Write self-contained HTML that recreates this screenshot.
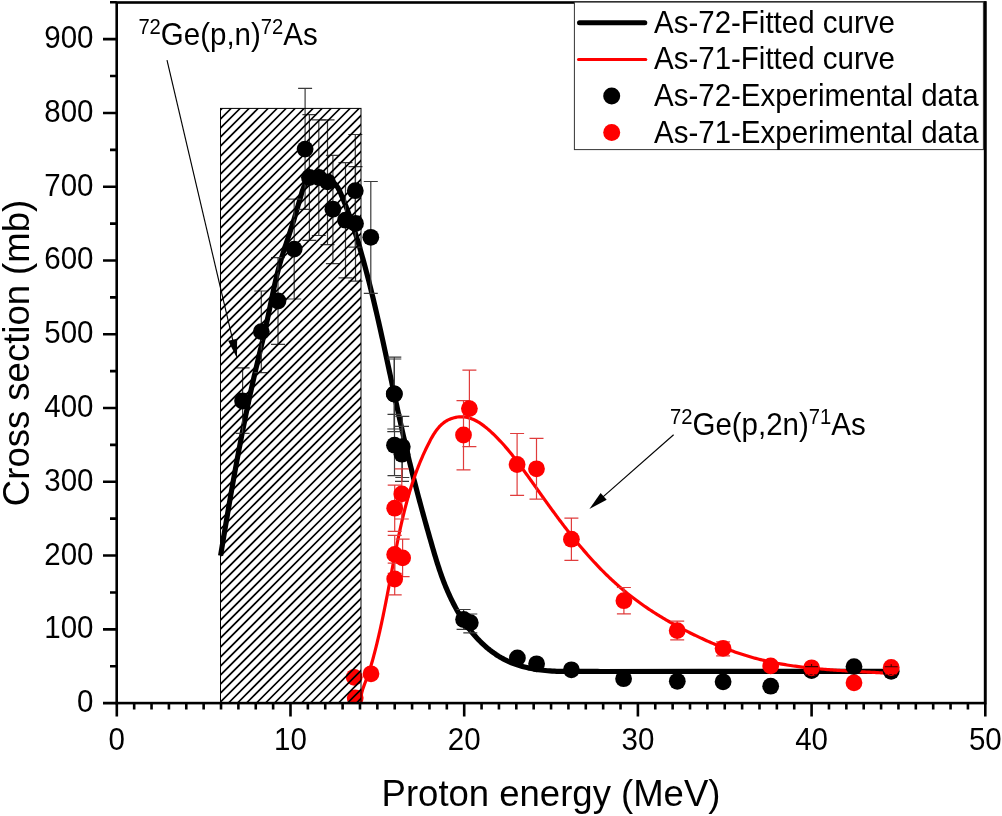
<!DOCTYPE html><html><head><meta charset="utf-8"><style>html,body{margin:0;padding:0;background:#fff;}svg{display:block;will-change:transform;}text{font-family:"Liberation Sans", sans-serif;}</style></head><body>
<svg width="1002" height="816" viewBox="0 0 1002 816">
<defs><clipPath id="pc"><rect x="116.70" y="2.50" width="868.50" height="700.60"/></clipPath>
</defs>
<rect width="1002" height="816" fill="#fff"/>
<g clip-path="url(#pc)">
<path d="M220.60,555.62L220.97,553.36L221.34,551.10L221.71,548.84L222.09,546.58L222.46,544.32L222.84,542.07L223.21,539.81L223.59,537.55L223.96,535.29L224.34,533.03L224.71,530.77L225.09,528.52L225.47,526.26L225.85,524.00L226.23,521.74L226.61,519.49L226.99,517.23L227.37,514.97L227.75,512.72L228.14,510.46L228.52,508.20L228.91,505.95L229.29,503.69L229.68,501.43L230.07,499.18L230.46,496.92L230.85,494.67L231.25,492.41L231.64,490.16L232.03,487.91L232.43,485.65L232.83,483.40L233.23,481.14L233.63,478.89L234.03,476.64L234.44,474.39L234.84,472.13L235.25,469.88L235.66,467.63L236.07,465.38L236.48,463.13L236.90,460.88L237.31,458.63L237.73,456.38L238.15,454.13L238.57,451.88L238.99,449.63L239.42,447.38L239.85,445.14L240.28,442.89L240.71,440.64L241.14,438.40L241.58,436.15L242.02,433.90L242.46,431.66L242.90,429.41L243.35,427.17L243.80,424.93L244.25,422.68L244.70,420.44L245.16,418.20L245.61,415.96L246.07,413.72L246.54,411.48L247.00,409.24L247.47,407.00L247.94,404.76L248.42,402.52L248.89,400.28L249.37,398.04L249.86,395.81L250.34,393.57L250.83,391.33L251.32,389.10L251.82,386.87L252.31,384.63L252.82,382.40L253.32,380.17L253.83,377.93L254.34,375.70L254.85,373.47L255.37,371.24L255.89,369.01L256.41,366.78L256.93,364.55L257.46,362.33L257.99,360.10L258.52,357.87L259.04,355.64L259.57,353.42L260.10,351.19L260.63,348.96L261.16,346.73L261.68,344.50L262.21,342.28L262.73,340.05L263.25,337.82L263.77,335.59L264.28,333.36L264.79,331.13L265.30,328.89L265.80,326.66L266.29,324.43L266.79,322.19L267.27,319.96L267.75,317.72L268.23,315.48L268.70,313.24L269.17,311.00L269.63,308.76L270.09,306.52L270.55,304.28L271.02,302.04L271.48,299.80L271.94,297.56L272.41,295.33L272.88,293.09L273.36,290.85L273.84,288.62L274.33,286.38L274.82,284.15L275.33,281.92L275.84,279.69L276.36,277.47L276.90,275.25L277.44,273.03L278.00,270.81L278.57,268.60L279.16,266.39L279.77,264.18L280.39,261.98L281.02,259.78L281.68,257.58L282.35,255.39L283.03,253.20L283.73,251.02L284.43,248.84L285.14,246.66L285.86,244.48L286.58,242.31L287.31,240.14L288.03,237.97L288.76,235.80L289.48,233.63L290.19,231.47L290.90,229.30L291.60,227.14L292.29,224.98L292.97,222.82L293.64,220.65L294.29,218.49L294.94,216.32L295.58,214.15L296.22,211.97L296.86,209.78L297.49,207.59L298.13,205.38L298.77,203.16L299.41,200.93L300.06,198.68L300.72,196.42L301.40,194.13L302.09,191.84L302.83,189.57L303.67,187.38L304.63,185.30L305.74,183.38L307.06,181.66L308.60,180.18L310.39,178.98L312.37,178.05L314.52,177.38L316.77,176.97L319.10,176.83L321.45,176.93L323.77,177.28L326.03,177.88L328.19,178.72L330.19,179.79L332.04,181.07L333.75,182.55L335.30,184.18L336.70,185.97L337.96,187.86L339.08,189.86L340.07,191.92L340.99,194.03L341.87,196.15L342.74,198.27L343.60,200.39L344.45,202.51L345.29,204.64L346.12,206.77L346.94,208.90L347.75,211.04L348.55,213.18L349.33,215.32L350.10,217.47L350.86,219.63L351.61,221.79L352.35,223.95L353.07,226.13L353.79,228.30L354.49,230.48L355.19,232.66L355.88,234.85L356.56,237.04L357.23,239.23L357.89,241.42L358.54,243.62L359.19,245.82L359.83,248.02L360.47,250.22L361.10,252.43L361.72,254.63L362.34,256.84L362.96,259.04L363.56,261.25L364.17,263.46L364.77,265.67L365.36,267.88L365.95,270.09L366.54,272.31L367.12,274.52L367.70,276.74L368.27,278.95L368.84,281.17L369.40,283.39L369.96,285.60L370.52,287.82L371.07,290.04L371.62,292.26L372.16,294.49L372.70,296.71L373.24,298.93L373.77,301.16L374.30,303.38L374.83,305.60L375.36,307.83L375.88,310.06L376.40,312.28L376.91,314.51L377.43,316.74L377.94,318.97L378.45,321.20L378.95,323.43L379.46,325.66L379.96,327.89L380.46,330.12L380.96,332.35L381.45,334.59L381.94,336.82L382.44,339.05L382.93,341.29L383.42,343.52L383.90,345.75L384.39,347.99L384.87,350.22L385.36,352.46L385.84,354.70L386.32,356.93L386.80,359.17L387.28,361.40L387.76,363.64L388.24,365.88L388.72,368.11L389.19,370.35L389.67,372.59L390.15,374.83L390.62,377.06L391.10,379.30L391.58,381.54L392.05,383.78L392.53,386.02L393.01,388.25L393.49,390.49L393.96,392.73L394.44,394.97L394.92,397.21L395.40,399.44L395.88,401.68L396.37,403.92L396.85,406.16L397.34,408.39L397.82,410.63L398.31,412.87L398.80,415.10L399.29,417.34L399.78,419.58L400.27,421.81L400.77,424.05L401.27,426.28L401.77,428.52L402.27,430.75L402.77,432.99L403.28,435.22L403.79,437.46L404.30,439.69L404.81,441.92L405.33,444.15L405.85,446.39L406.37,448.62L406.90,450.85L407.42,453.08L407.96,455.31L408.49,457.54L409.03,459.77L409.57,462.00L410.12,464.22L410.66,466.45L411.22,468.68L411.77,470.90L412.33,473.13L412.89,475.35L413.45,477.58L414.02,479.80L414.59,482.02L415.16,484.24L415.74,486.46L416.32,488.68L416.90,490.90L417.48,493.12L418.07,495.33L418.66,497.55L419.25,499.76L419.84,501.98L420.44,504.19L421.04,506.40L421.64,508.61L422.24,510.82L422.85,513.02L423.45,515.23L424.06,517.43L424.67,519.64L425.29,521.84L425.90,524.04L426.52,526.24L427.14,528.44L427.76,530.63L428.38,532.83L429.00,535.02L429.62,537.21L430.25,539.40L430.88,541.59L431.51,543.78L432.14,545.96L432.77,548.14L433.41,550.32L434.05,552.50L434.70,554.68L435.35,556.85L436.01,559.02L436.69,561.19L437.37,563.36L438.06,565.52L438.77,567.68L439.48,569.84L440.22,571.99L440.96,574.14L441.72,576.29L442.50,578.43L443.30,580.57L444.12,582.70L444.96,584.83L445.81,586.96L446.69,589.08L447.60,591.20L448.52,593.31L449.48,595.42L450.45,597.52L451.45,599.61L452.48,601.69L453.53,603.76L454.60,605.82L455.70,607.87L456.83,609.91L457.98,611.93L459.15,613.93L460.36,615.91L461.58,617.88L462.84,619.83L464.12,621.76L465.43,623.66L466.76,625.54L468.13,627.40L469.52,629.24L470.93,631.04L472.38,632.82L473.85,634.58L475.35,636.30L476.88,637.99L478.43,639.65L480.02,641.27L481.63,642.86L483.27,644.42L484.94,645.94L486.64,647.42L488.37,648.87L490.13,650.27L491.92,651.63L493.74,652.95L495.59,654.23L497.46,655.46L499.37,656.65L501.31,657.79L503.28,658.88L505.28,659.93L507.31,660.92L509.38,661.86L511.47,662.75L513.60,663.59L515.75,664.37L517.93,665.11L520.13,665.80L522.36,666.44L524.60,667.03L526.86,667.58L529.13,668.09L531.42,668.55L533.72,668.97L536.02,669.36L538.33,669.71L540.64,670.02L542.95,670.29L545.26,670.53L547.57,670.74L549.87,670.92L552.16,671.07L554.44,671.19L556.70,671.29L558.97,671.36L561.22,671.41L563.47,671.44L565.72,671.46L567.96,671.46L570.21,671.46L572.45,671.44L574.70,671.42L576.95,671.40L579.21,671.37L581.47,671.35L583.75,671.33L586.03,671.32L588.33,671.31L590.64,671.32L592.96,671.35L595.30,671.38L597.66,671.44L600.04,671.52L700.00,671.45L893.00,671.40" fill="none" stroke="#000" stroke-width="5.2" stroke-linejoin="round"/>
<path d="M360.83,701.79L360.80,700.06L360.87,698.34L361.03,696.66L361.29,695.00L361.62,693.35L362.02,691.73L362.48,690.12L362.99,688.52L363.53,686.94L364.11,685.36L364.70,683.78L365.30,682.21L365.91,680.63L366.50,679.05L367.08,677.47L367.65,675.89L368.20,674.29L368.74,672.70L369.27,671.10L369.78,669.50L370.29,667.89L370.78,666.28L371.27,664.67L371.74,663.06L372.21,661.44L372.67,659.82L373.12,658.20L373.56,656.57L373.99,654.95L374.42,653.32L374.85,651.69L375.26,650.06L375.68,648.42L376.09,646.79L376.49,645.15L376.89,643.52L377.29,641.88L377.68,640.24L378.07,638.60L378.46,636.96L378.84,635.32L379.21,633.68L379.59,632.04L379.96,630.39L380.32,628.75L380.69,627.10L381.05,625.46L381.41,623.81L381.76,622.16L382.11,620.51L382.46,618.86L382.81,617.21L383.15,615.56L383.49,613.91L383.83,612.26L384.17,610.60L384.50,608.95L384.84,607.29L385.17,605.64L385.50,603.99L385.82,602.33L386.15,600.67L386.47,599.02L386.80,597.36L387.12,595.70L387.44,594.05L387.76,592.39L388.07,590.73L388.39,589.07L388.71,587.41L389.02,585.75L389.34,584.10L389.65,582.44L389.97,580.78L390.28,579.12L390.60,577.46L390.91,575.80L391.22,574.14L391.54,572.48L391.85,570.82L392.16,569.16L392.48,567.50L392.79,565.84L393.11,564.18L393.43,562.52L393.74,560.86L394.06,559.21L394.38,557.55L394.70,555.89L395.02,554.23L395.35,552.57L395.67,550.92L396.00,549.26L396.32,547.60L396.65,545.95L396.99,544.29L397.32,542.64L397.66,540.98L397.99,539.33L398.34,537.68L398.68,536.03L399.03,534.38L399.38,532.73L399.73,531.08L400.09,529.43L400.45,527.78L400.82,526.13L401.19,524.49L401.56,522.85L401.94,521.20L402.32,519.56L402.70,517.92L403.09,516.28L403.49,514.65L403.89,513.01L404.30,511.37L404.71,509.74L405.12,508.11L405.55,506.48L405.97,504.85L406.41,503.23L406.85,501.60L407.29,499.98L407.75,498.36L408.21,496.74L408.67,495.12L409.14,493.51L409.62,491.89L410.11,490.28L410.60,488.67L411.11,487.07L411.62,485.46L412.13,483.86L412.66,482.26L413.19,480.66L413.73,479.07L414.28,477.48L414.84,475.89L415.41,474.30L415.98,472.71L416.57,471.13L417.16,469.55L417.77,467.98L418.38,466.40L419.00,464.83L419.63,463.26L420.28,461.70L420.93,460.14L421.59,458.58L422.26,457.02L422.95,455.47L423.64,453.92L424.35,452.37L425.06,450.83L425.79,449.29L426.53,447.75L427.28,446.22L428.04,444.69L428.81,443.16L429.60,441.64L430.40,440.12L431.21,438.61L432.05,437.12L432.91,435.64L433.79,434.19L434.71,432.76L435.65,431.37L436.64,430.01L437.67,428.69L438.74,427.42L439.85,426.20L441.02,425.03L442.25,423.93L443.53,422.88L444.87,421.90L446.27,421.00L447.75,420.17L449.28,419.42L450.87,418.76L452.50,418.19L454.16,417.71L455.84,417.32L457.53,417.03L459.21,416.85L460.88,416.77L462.52,416.80L464.15,416.92L465.76,417.15L467.35,417.46L468.92,417.86L470.47,418.35L472.00,418.91L473.51,419.54L475.00,420.24L476.48,421.01L477.93,421.83L479.37,422.71L480.79,423.64L482.19,424.62L483.58,425.64L484.94,426.69L486.29,427.77L487.62,428.88L488.93,430.02L490.23,431.17L491.50,432.33L492.76,433.51L494.01,434.70L495.23,435.89L496.45,437.10L497.64,438.32L498.82,439.54L499.99,440.78L501.15,442.02L502.29,443.27L503.42,444.53L504.53,445.80L505.64,447.08L506.74,448.36L507.82,449.65L508.89,450.95L509.96,452.25L511.01,453.56L512.06,454.87L513.10,456.19L514.13,457.52L515.16,458.85L516.18,460.18L517.19,461.52L518.20,462.86L519.20,464.21L520.20,465.55L521.19,466.91L522.18,468.26L523.17,469.62L524.15,470.98L525.14,472.34L526.12,473.70L527.10,475.06L528.08,476.43L529.06,477.80L530.04,479.16L531.02,480.53L532.00,481.90L532.97,483.27L533.95,484.64L534.93,486.01L535.90,487.38L536.88,488.76L537.86,490.13L538.83,491.50L539.81,492.87L540.79,494.25L541.77,495.62L542.75,496.99L543.73,498.36L544.71,499.73L545.69,501.10L546.68,502.48L547.66,503.85L548.65,505.21L549.64,506.58L550.63,507.95L551.62,509.32L552.62,510.68L553.61,512.05L554.61,513.41L555.62,514.77L556.62,516.13L557.63,517.49L558.64,518.85L559.65,520.20L560.67,521.55L561.69,522.90L562.71,524.25L563.73,525.60L564.76,526.94L565.80,528.28L566.83,529.62L567.87,530.96L568.91,532.29L569.96,533.62L571.01,534.95L572.06,536.28L573.12,537.60L574.18,538.92L575.25,540.23L576.32,541.54L577.39,542.85L578.47,544.16L579.55,545.46L580.64,546.75L581.73,548.04L582.83,549.33L583.92,550.62L585.03,551.90L586.14,553.17L587.25,554.44L588.37,555.71L589.49,556.97L590.62,558.23L591.75,559.48L592.89,560.72L594.03,561.96L595.18,563.20L596.34,564.43L597.49,565.65L598.66,566.87L599.83,568.09L601.00,569.30L602.18,570.50L603.37,571.69L604.56,572.88L605.76,574.07L606.96,575.24L608.17,576.41L609.39,577.58L610.61,578.73L611.83,579.88L613.07,581.03L614.31,582.16L615.55,583.29L616.81,584.42L618.06,585.53L619.33,586.64L620.60,587.74L621.88,588.83L623.16,589.92L624.45,590.99L625.75,592.06L627.06,593.12L628.37,594.18L629.69,595.22L631.01,596.26L632.34,597.29L633.68,598.31L635.02,599.32L636.37,600.33L637.73,601.33L639.09,602.32L640.46,603.31L641.83,604.28L643.21,605.25L644.60,606.21L645.99,607.17L647.38,608.12L648.78,609.06L650.19,609.99L651.60,610.92L653.02,611.84L654.44,612.75L655.86,613.66L657.29,614.55L658.73,615.45L660.17,616.33L661.61,617.21L663.06,618.08L664.52,618.95L665.97,619.81L667.44,620.66L668.90,621.50L670.37,622.34L671.84,623.18L673.32,624.00L674.80,624.82L676.29,625.64L677.78,626.45L679.27,627.25L680.76,628.05L682.26,628.84L683.76,629.62L685.26,630.40L686.77,631.17L688.28,631.94L689.79,632.70L691.31,633.45L692.83,634.20L694.35,634.95L695.87,635.68L697.40,636.42L698.93,637.14L700.46,637.86L701.99,638.57L703.53,639.28L705.07,639.98L706.61,640.67L708.16,641.36L709.70,642.04L711.25,642.71L712.81,643.38L714.36,644.04L715.92,644.69L717.48,645.33L719.04,645.97L720.61,646.60L722.18,647.22L723.75,647.84L725.32,648.44L726.90,649.04L728.47,649.63L730.06,650.22L731.64,650.79L733.23,651.36L734.81,651.92L736.41,652.47L738.00,653.01L739.60,653.54L741.20,654.06L742.80,654.58L744.40,655.08L746.01,655.58L747.62,656.07L749.23,656.55L750.85,657.02L752.46,657.48L754.08,657.93L755.71,658.37L757.33,658.80L758.96,659.22L760.59,659.64L762.22,660.04L763.86,660.43L765.49,660.81L767.13,661.19L768.78,661.55L770.42,661.90L772.07,662.25L773.72,662.58L775.37,662.91L777.02,663.23L778.67,663.54L780.33,663.84L781.99,664.13L783.65,664.42L785.31,664.69L786.98,664.96L788.64,665.23L790.31,665.48L791.98,665.73L793.65,665.97L795.32,666.20L797.00,666.43L798.67,666.65L800.35,666.86L802.03,667.07L803.71,667.27L805.39,667.47L807.07,667.66L808.75,667.84L810.43,668.02L812.12,668.20L813.80,668.36L815.49,668.53L817.17,668.69L818.86,668.84L820.55,668.99L822.23,669.14L823.92,669.28L825.61,669.42L827.30,669.55L828.99,669.68L830.68,669.81L832.37,669.93L834.06,670.06L835.75,670.17L837.44,670.29L839.13,670.40L840.82,670.51L842.51,670.62L844.20,670.72L845.90,670.83L847.58,670.93L849.27,671.03L850.96,671.13L852.65,671.23L854.34,671.32L856.03,671.42L857.72,671.51L859.40,671.61L861.09,671.70L862.77,671.79L864.46,671.89L866.14,671.98L867.82,672.07L869.50,672.17L871.18,672.26L872.86,672.36L874.54,672.45L876.22,672.55L877.89,672.65L879.57,672.74L881.24,672.85L882.91,672.95L884.58,673.05L886.25,673.16L887.92,673.27L889.58,673.38L891.25,673.49L892.91,673.60" fill="none" stroke="#f00" stroke-width="3.2" stroke-linejoin="round"/>
<path d="M242.60,367.90V433.40M235.60,367.90H249.60M235.60,433.40H249.60" stroke="#3a3a3a" stroke-width="1.2" fill="none"/>
<path d="M261.30,291.00V372.70M254.30,291.00H268.30M254.30,372.70H268.30" stroke="#3a3a3a" stroke-width="1.2" fill="none"/>
<path d="M278.00,257.60V344.40M271.00,257.60H285.00M271.00,344.40H285.00" stroke="#3a3a3a" stroke-width="1.2" fill="none"/>
<path d="M294.20,199.10V299.00M287.20,199.10H301.20M287.20,299.00H301.20" stroke="#3a3a3a" stroke-width="1.2" fill="none"/>
<path d="M305.10,88.30V209.40M298.10,88.30H312.10M298.10,209.40H312.10" stroke="#3a3a3a" stroke-width="1.2" fill="none"/>
<path d="M309.40,114.70V240.30M302.40,114.70H316.40M302.40,240.30H316.40" stroke="#3a3a3a" stroke-width="1.2" fill="none"/>
<path d="M318.80,119.80V235.50M311.80,119.80H325.80M311.80,235.50H325.80" stroke="#3a3a3a" stroke-width="1.2" fill="none"/>
<path d="M327.50,119.80V244.70M320.50,119.80H334.50M320.50,244.70H334.50" stroke="#3a3a3a" stroke-width="1.2" fill="none"/>
<path d="M332.90,155.30V263.70M325.90,155.30H339.90M325.90,263.70H339.90" stroke="#3a3a3a" stroke-width="1.2" fill="none"/>
<path d="M345.50,162.60V277.80M338.50,162.60H352.50M338.50,277.80H352.50" stroke="#3a3a3a" stroke-width="1.2" fill="none"/>
<path d="M355.30,134.50V247.10M348.30,134.50H362.30M348.30,247.10H362.30" stroke="#3a3a3a" stroke-width="1.2" fill="none"/>
<path d="M355.50,166.60V281.10M348.50,166.60H362.50M348.50,281.10H362.50" stroke="#3a3a3a" stroke-width="1.2" fill="none"/>
<path d="M370.80,181.50V293.30M363.80,181.50H377.80M363.80,293.30H377.80" stroke="#3a3a3a" stroke-width="1.2" fill="none"/>
<path d="M394.30,359.00V429.00M387.30,359.00H401.30M387.30,429.00H401.30" stroke="#3a3a3a" stroke-width="1.2" fill="none"/>
<path d="M394.30,357.20V431.70M387.30,357.20H401.30M387.30,431.70H401.30" stroke="#3a3a3a" stroke-width="1.2" fill="none"/>
<path d="M394.50,414.30V475.60M387.50,414.30H401.50M387.50,475.60H401.50" stroke="#3a3a3a" stroke-width="1.2" fill="none"/>
<path d="M402.30,416.30V477.50M395.30,416.30H409.30M395.30,477.50H409.30" stroke="#3a3a3a" stroke-width="1.2" fill="none"/>
<path d="M402.00,426.40V481.30M395.00,426.40H409.00M395.00,481.30H409.00" stroke="#3a3a3a" stroke-width="1.2" fill="none"/>
<path d="M463.60,609.50V629.30M456.60,609.50H470.60M456.60,629.30H470.60" stroke="#3a3a3a" stroke-width="1.2" fill="none"/>
<path d="M470.30,614.00V632.80M463.30,614.00H477.30M463.30,632.80H477.30" stroke="#3a3a3a" stroke-width="1.2" fill="none"/>







<path d="M811.60,666.60V674.60M804.60,666.60H818.60M804.60,674.60H818.60" stroke="#3a3a3a" stroke-width="1.2" fill="none"/>

<path d="M891.20,666.70V674.50M884.20,666.70H898.20M884.20,674.50H898.20" stroke="#3a3a3a" stroke-width="1.2" fill="none"/>
<circle cx="242.60" cy="401.00" r="8.40" fill="#000"/>
<circle cx="261.30" cy="331.60" r="8.40" fill="#000"/>
<circle cx="278.00" cy="301.00" r="8.40" fill="#000"/>
<circle cx="294.20" cy="249.10" r="8.40" fill="#000"/>
<circle cx="305.10" cy="149.10" r="8.40" fill="#000"/>
<circle cx="309.40" cy="177.50" r="8.40" fill="#000"/>
<circle cx="318.80" cy="177.50" r="8.40" fill="#000"/>
<circle cx="327.50" cy="181.80" r="8.40" fill="#000"/>
<circle cx="332.90" cy="209.20" r="8.40" fill="#000"/>
<circle cx="345.50" cy="220.20" r="8.40" fill="#000"/>
<circle cx="355.30" cy="190.70" r="8.40" fill="#000"/>
<circle cx="355.50" cy="223.50" r="8.40" fill="#000"/>
<circle cx="370.80" cy="237.30" r="8.40" fill="#000"/>
<circle cx="394.30" cy="394.00" r="8.40" fill="#000"/>
<circle cx="394.30" cy="394.00" r="8.40" fill="#000"/>
<circle cx="394.50" cy="445.20" r="8.40" fill="#000"/>
<circle cx="402.30" cy="446.70" r="8.40" fill="#000"/>
<circle cx="402.00" cy="454.20" r="8.40" fill="#000"/>
<circle cx="463.60" cy="619.50" r="8.40" fill="#000"/>
<circle cx="470.30" cy="622.70" r="8.40" fill="#000"/>
<circle cx="517.40" cy="657.90" r="8.40" fill="#000"/>
<circle cx="536.60" cy="663.80" r="8.40" fill="#000"/>
<circle cx="571.40" cy="669.80" r="8.40" fill="#000"/>
<circle cx="623.60" cy="678.70" r="8.40" fill="#000"/>
<circle cx="677.30" cy="681.30" r="8.40" fill="#000"/>
<circle cx="723.10" cy="681.80" r="8.40" fill="#000"/>
<circle cx="770.70" cy="686.20" r="8.40" fill="#000"/>
<circle cx="811.60" cy="670.60" r="8.40" fill="#000"/>
<circle cx="854.00" cy="666.60" r="8.40" fill="#000"/>
<circle cx="891.20" cy="671.30" r="8.40" fill="#000"/>



<path d="M401.80,468.80V519.00M394.80,468.80H408.80M394.80,519.00H408.80" stroke="#e03c3c" stroke-width="1.2" fill="none"/>
<path d="M394.70,485.10V531.30M387.70,485.10H401.70M387.70,531.30H401.70" stroke="#e03c3c" stroke-width="1.2" fill="none"/>
<path d="M394.70,535.30V573.40M387.70,535.30H401.70M387.70,573.40H401.70" stroke="#e03c3c" stroke-width="1.2" fill="none"/>
<path d="M402.60,539.20V576.60M395.60,539.20H409.60M395.60,576.60H409.60" stroke="#e03c3c" stroke-width="1.2" fill="none"/>
<path d="M394.70,563.10V594.90M387.70,563.10H401.70M387.70,594.90H401.70" stroke="#e03c3c" stroke-width="1.2" fill="none"/>
<path d="M463.50,400.60V469.80M456.50,400.60H470.50M456.50,469.80H470.50" stroke="#e03c3c" stroke-width="1.2" fill="none"/>
<path d="M469.40,370.20V446.70M462.40,370.20H476.40M462.40,446.70H476.40" stroke="#e03c3c" stroke-width="1.2" fill="none"/>
<path d="M517.10,433.50V495.30M510.10,433.50H524.10M510.10,495.30H524.10" stroke="#e03c3c" stroke-width="1.2" fill="none"/>
<path d="M536.50,438.40V499.20M529.50,438.40H543.50M529.50,499.20H543.50" stroke="#e03c3c" stroke-width="1.2" fill="none"/>
<path d="M571.40,518.20V560.40M564.40,518.20H578.40M564.40,560.40H578.40" stroke="#e03c3c" stroke-width="1.2" fill="none"/>
<path d="M623.90,587.50V613.90M616.90,587.50H630.90M616.90,613.90H630.90" stroke="#e03c3c" stroke-width="1.2" fill="none"/>
<path d="M677.20,621.20V639.90M670.20,621.20H684.20M670.20,639.90H684.20" stroke="#e03c3c" stroke-width="1.2" fill="none"/>
<path d="M723.10,641.80V655.90M716.10,641.80H730.10M716.10,655.90H730.10" stroke="#e03c3c" stroke-width="1.2" fill="none"/>




<circle cx="354.20" cy="677.30" r="8.40" fill="#f00"/>
<circle cx="355.20" cy="697.80" r="8.40" fill="#f00"/>
<circle cx="371.00" cy="673.80" r="8.40" fill="#f00"/>
<circle cx="401.80" cy="493.90" r="8.40" fill="#f00"/>
<circle cx="394.70" cy="508.20" r="8.40" fill="#f00"/>
<circle cx="394.70" cy="554.40" r="8.40" fill="#f00"/>
<circle cx="402.60" cy="557.90" r="8.40" fill="#f00"/>
<circle cx="394.70" cy="579.00" r="8.40" fill="#f00"/>
<circle cx="463.50" cy="435.00" r="8.40" fill="#f00"/>
<circle cx="469.40" cy="408.60" r="8.40" fill="#f00"/>
<circle cx="517.10" cy="464.50" r="8.40" fill="#f00"/>
<circle cx="536.50" cy="468.80" r="8.40" fill="#f00"/>
<circle cx="571.40" cy="539.20" r="8.40" fill="#f00"/>
<circle cx="623.90" cy="600.70" r="8.40" fill="#f00"/>
<circle cx="677.20" cy="630.60" r="8.40" fill="#f00"/>
<circle cx="723.10" cy="648.40" r="8.40" fill="#f00"/>
<circle cx="770.70" cy="665.90" r="8.40" fill="#f00"/>
<circle cx="811.60" cy="667.80" r="8.40" fill="#f00"/>
<circle cx="854.00" cy="682.80" r="8.40" fill="#f00"/>
<circle cx="891.20" cy="667.50" r="8.40" fill="#f00"/>
<path d="M811.60,664.10V666.60M805.10,666.60H818.10" stroke="#400000" stroke-width="1.1" fill="none"/>
<path d="M805.10,674.60H818.10" stroke="#700000" stroke-width="1.1" stroke-dasharray="3,1.5" fill="none"/>
<path d="M891.20,664.20V666.70M884.70,666.70H897.70" stroke="#400000" stroke-width="1.1" fill="none"/>
<path d="M884.70,674.50H897.70" stroke="#700000" stroke-width="1.1" stroke-dasharray="3,1.5" fill="none"/>
</g>
<clipPath id="hc"><rect x="220.50" y="108.40" width="140.50" height="594.70"/></clipPath>
<path clip-path="url(#hc)" d="M-392.60,705.10L206.10,106.40M-383.60,705.10L215.10,106.40M-374.60,705.10L224.10,106.40M-365.60,705.10L233.10,106.40M-356.60,705.10L242.10,106.40M-347.60,705.10L251.10,106.40M-338.60,705.10L260.10,106.40M-328.60,705.10L270.10,106.40M-319.60,705.10L279.10,106.40M-310.60,705.10L288.10,106.40M-301.60,705.10L297.10,106.40M-292.60,705.10L306.10,106.40M-283.60,705.10L315.10,106.40M-274.60,705.10L324.10,106.40M-265.60,705.10L333.10,106.40M-256.60,705.10L342.10,106.40M-246.60,705.10L352.10,106.40M-237.60,705.10L361.10,106.40M-228.60,705.10L370.10,106.40M-219.60,705.10L379.10,106.40M-210.60,705.10L388.10,106.40M-201.60,705.10L397.10,106.40M-192.60,705.10L406.10,106.40M-183.60,705.10L415.10,106.40M-174.60,705.10L424.10,106.40M-164.60,705.10L434.10,106.40M-155.60,705.10L443.10,106.40M-146.60,705.10L452.10,106.40M-137.60,705.10L461.10,106.40M-128.60,705.10L470.10,106.40M-119.60,705.10L479.10,106.40M-110.60,705.10L488.10,106.40M-101.60,705.10L497.10,106.40M-92.60,705.10L506.10,106.40M-82.60,705.10L516.10,106.40M-73.60,705.10L525.10,106.40M-64.60,705.10L534.10,106.40M-55.60,705.10L543.10,106.40M-46.60,705.10L552.10,106.40M-37.60,705.10L561.10,106.40M-28.60,705.10L570.10,106.40M-19.60,705.10L579.10,106.40M-10.60,705.10L588.10,106.40M-0.60,705.10L598.10,106.40M8.40,705.10L607.10,106.40M17.40,705.10L616.10,106.40M26.40,705.10L625.10,106.40M35.40,705.10L634.10,106.40M44.40,705.10L643.10,106.40M53.40,705.10L652.10,106.40M62.40,705.10L661.10,106.40M71.40,705.10L670.10,106.40M80.40,705.10L679.10,106.40M90.40,705.10L689.10,106.40M99.40,705.10L698.10,106.40M108.40,705.10L707.10,106.40M117.40,705.10L716.10,106.40M126.40,705.10L725.10,106.40M135.40,705.10L734.10,106.40M144.40,705.10L743.10,106.40M153.40,705.10L752.10,106.40M162.40,705.10L761.10,106.40M172.40,705.10L771.10,106.40M181.40,705.10L780.10,106.40M190.40,705.10L789.10,106.40M199.40,705.10L798.10,106.40M208.40,705.10L807.10,106.40M217.40,705.10L816.10,106.40M226.40,705.10L825.10,106.40M235.40,705.10L834.10,106.40M244.40,705.10L843.10,106.40M254.40,705.10L853.10,106.40M263.40,705.10L862.10,106.40M272.40,705.10L871.10,106.40M281.40,705.10L880.10,106.40M290.40,705.10L889.10,106.40M299.40,705.10L898.10,106.40M308.40,705.10L907.10,106.40M317.40,705.10L916.10,106.40M326.40,705.10L925.10,106.40M336.40,705.10L935.10,106.40M345.40,705.10L944.10,106.40M354.40,705.10L953.10,106.40M363.40,705.10L962.10,106.40M372.40,705.10L971.10,106.40" stroke="#000" stroke-width="1.60" fill="none"/>
<rect x="220.50" y="108.40" width="140.50" height="594.70" fill="none" stroke="#000" stroke-width="1"/>
<rect x="116.70" y="2.50" width="868.50" height="700.60" fill="none" stroke="#000" stroke-width="2.60"/>
<path d="M103.00,703.10H116.70M110.00,666.22H116.70M103.00,629.33H116.70M110.00,592.45H116.70M103.00,555.56H116.70M110.00,518.67H116.70M103.00,481.79H116.70M110.00,444.91H116.70M103.00,408.02H116.70M110.00,371.13H116.70M103.00,334.25H116.70M110.00,297.37H116.70M103.00,260.48H116.70M110.00,223.60H116.70M103.00,186.71H116.70M110.00,149.83H116.70M103.00,112.94H116.70M110.00,76.05H116.70M103.00,39.17H116.70M110.00,2.28H116.70M116.80,703.10V716.40M134.17,703.10V709.50M151.54,703.10V709.50M168.91,703.10V709.50M186.28,703.10V709.50M203.65,703.10V709.50M221.02,703.10V709.50M238.39,703.10V709.50M255.76,703.10V709.50M273.13,703.10V709.50M290.50,703.10V716.40M307.87,703.10V709.50M325.24,703.10V709.50M342.61,703.10V709.50M359.98,703.10V709.50M377.35,703.10V709.50M394.72,703.10V709.50M412.09,703.10V709.50M429.46,703.10V709.50M446.83,703.10V709.50M464.20,703.10V716.40M481.57,703.10V709.50M498.94,703.10V709.50M516.31,703.10V709.50M533.68,703.10V709.50M551.05,703.10V709.50M568.42,703.10V709.50M585.79,703.10V709.50M603.16,703.10V709.50M620.53,703.10V709.50M637.90,703.10V716.40M655.27,703.10V709.50M672.64,703.10V709.50M690.01,703.10V709.50M707.38,703.10V709.50M724.75,703.10V709.50M742.12,703.10V709.50M759.49,703.10V709.50M776.86,703.10V709.50M794.23,703.10V709.50M811.60,703.10V716.40M828.97,703.10V709.50M846.34,703.10V709.50M863.71,703.10V709.50M881.08,703.10V709.50M898.45,703.10V709.50M915.82,703.10V709.50M933.19,703.10V709.50M950.56,703.10V709.50M967.93,703.10V709.50M985.30,703.10V716.40" stroke="#000" stroke-width="2.60" fill="none"/>
<text transform="translate(93.5,712.10) scale(1,1.090)" font-size="29.5" text-anchor="end">0</text>
<text transform="translate(93.5,638.33) scale(1,1.090)" font-size="29.5" text-anchor="end">100</text>
<text transform="translate(93.5,564.56) scale(1,1.090)" font-size="29.5" text-anchor="end">200</text>
<text transform="translate(93.5,490.79) scale(1,1.090)" font-size="29.5" text-anchor="end">300</text>
<text transform="translate(93.5,417.02) scale(1,1.090)" font-size="29.5" text-anchor="end">400</text>
<text transform="translate(93.5,343.25) scale(1,1.090)" font-size="29.5" text-anchor="end">500</text>
<text transform="translate(93.5,269.48) scale(1,1.090)" font-size="29.5" text-anchor="end">600</text>
<text transform="translate(93.5,195.71) scale(1,1.090)" font-size="29.5" text-anchor="end">700</text>
<text transform="translate(93.5,121.94) scale(1,1.090)" font-size="29.5" text-anchor="end">800</text>
<text transform="translate(93.5,48.17) scale(1,1.090)" font-size="29.5" text-anchor="end">900</text>
<text transform="translate(116.80,749.6) scale(1,1.090)" font-size="29.5" text-anchor="middle">0</text>
<text transform="translate(290.50,749.6) scale(1,1.090)" font-size="29.5" text-anchor="middle">10</text>
<text transform="translate(464.20,749.6) scale(1,1.090)" font-size="29.5" text-anchor="middle">20</text>
<text transform="translate(637.90,749.6) scale(1,1.090)" font-size="29.5" text-anchor="middle">30</text>
<text transform="translate(811.60,749.6) scale(1,1.090)" font-size="29.5" text-anchor="middle">40</text>
<text transform="translate(985.30,749.6) scale(1,1.090)" font-size="29.5" text-anchor="middle">50</text>
<text x="551" y="806" font-size="36.5" text-anchor="middle">Proton energy (MeV)</text>
<text transform="translate(29.3,353) rotate(-90)" x="0" y="0" font-size="36.5" text-anchor="middle">Cross section (mb)</text>
<text transform="translate(138.40,45.10) scale(1,1.06)" font-size="29.5"><tspan font-size="20.2" dy="-10.80">72</tspan><tspan dy="10.80">Ge(p,n)</tspan><tspan font-size="20.2" dy="-10.80">72</tspan><tspan dy="10.80">As</tspan></text>
<text transform="translate(670.00,435.10) scale(1,1.06)" font-size="29.5"><tspan font-size="20.2" dy="-10.80">72</tspan><tspan dy="10.80">Ge(p,2n)</tspan><tspan font-size="20.2" dy="-10.80">71</tspan><tspan dy="10.80">As</tspan></text>
<path d="M167.00,60.10L233.11,341.65" stroke="#000" stroke-width="1.15" fill="none"/><path d="M237.00,358.20L228.18,340.75L237.13,338.65Z" fill="#000"/>
<path d="M673.60,434.70L602.15,497.66" stroke="#000" stroke-width="1.15" fill="none"/><path d="M589.40,508.90L600.61,492.89L606.70,499.79Z" fill="#000"/>
<rect x="574.4" y="2.1" width="409" height="147.5" fill="#fff" stroke="#333" stroke-width="1"/>
<path d="M579.5,22.8H644.8" stroke="#000" stroke-width="5" stroke-linecap="round"/>
<path d="M578.5,59.4H645.8" stroke="#f00" stroke-width="3" stroke-linecap="round"/>
<circle cx="611.7" cy="95.9" r="8.5" fill="#000"/>
<circle cx="611.7" cy="132.6" r="8.5" fill="#f00"/>
<text transform="translate(654,32.50) scale(1,1.09)" font-size="29.5">As-72-Fitted curve</text>
<text transform="translate(654,69.40) scale(1,1.09)" font-size="29.5">As-71-Fitted curve</text>
<text transform="translate(654,106.10) scale(1,1.09)" font-size="29.5">As-72-Experimental data</text>
<text transform="translate(654,142.80) scale(1,1.09)" font-size="29.5">As-71-Experimental data</text>
<path d="M985.20,1.20V703.10" stroke="#000" stroke-width="2.60"/>
</svg></body></html>
